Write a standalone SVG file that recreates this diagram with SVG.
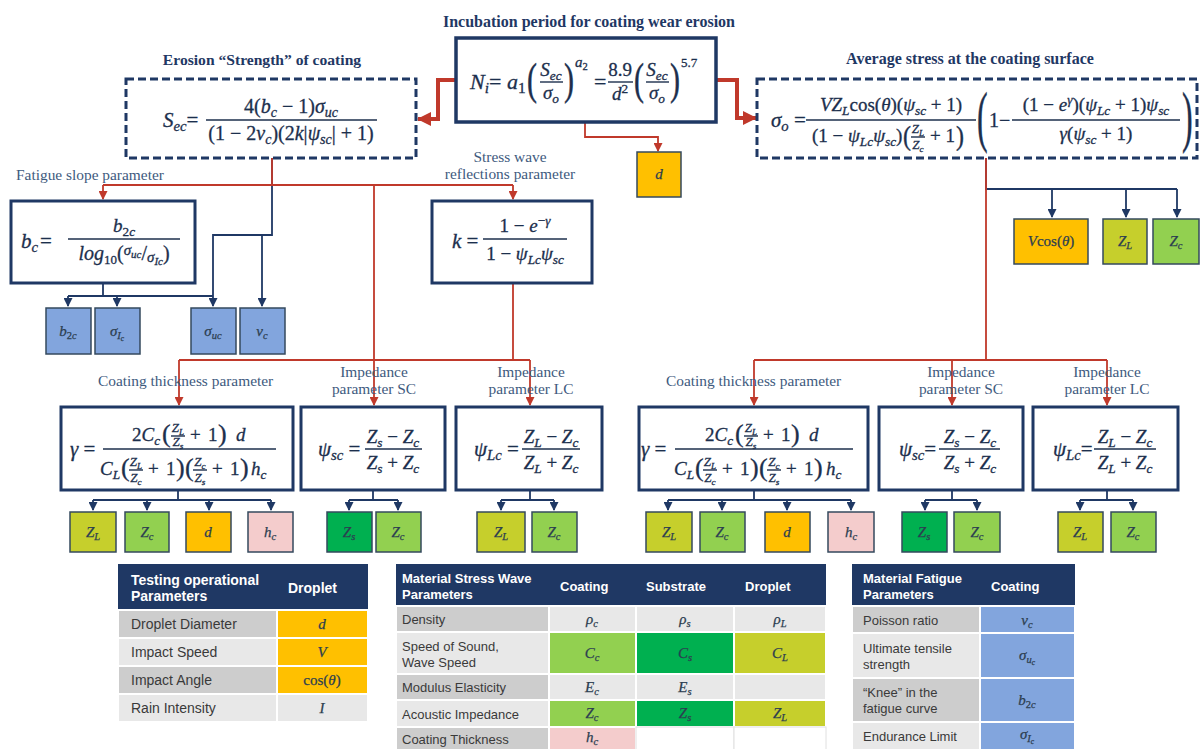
<svg xmlns="http://www.w3.org/2000/svg" width="1202" height="749" viewBox="0 0 1202 749">
<defs>
<style>
.ttl{font-family:"Liberation Serif","DejaVu Serif",serif;font-weight:bold;font-size:16px;fill:#1f3864}
.lbl{font-family:"Liberation Serif","DejaVu Serif",serif;font-size:15.4px;fill:#3e5a7e}
.m{font-family:"Liberation Serif","DejaVu Serif",serif;font-style:italic;fill:#1c2f4d;stroke:#1c2f4d;stroke-width:0.3}
.u{font-style:normal}
.sb{font-size:70%;baseline-shift:-0.28em}
.sp{font-size:70%;baseline-shift:0.55em}
.box{fill:#fff;stroke:#1f3864;stroke-width:3}
.dbox{fill:#fff;stroke:#1f3864;stroke-width:3;stroke-dasharray:8 4}
.bar{stroke:#1c2f4d;stroke-width:1.4}
.sm{stroke:#34495e;stroke-width:1.5}
.yel{fill:#ffc000}.olv{fill:#c6cf2c}.lgr{fill:#92d050}.dgr{fill:#00b050}.pnk{fill:#f4cccc}.blu{fill:#82a5dd}.wht{fill:#fff}
.rt{fill:none;stroke:#c0392b;stroke-width:4}
.rl{fill:none;stroke:#c0392b;stroke-width:1.8}
.nl{fill:none;stroke:#1f3864;stroke-width:1.8}
.th{fill:#1f3864}
.tc{stroke:#fff;stroke-width:2}
.g1{fill:#cdcdcd}.g2{fill:#e8e8e8}
.tt{font-family:"Liberation Sans",Arial,sans-serif;font-size:13px;fill:#3a3a3a}
.tt14{font-family:"Liberation Sans",Arial,sans-serif;font-size:14px;fill:#3a3a3a}
.thd{font-family:"Liberation Sans",Arial,sans-serif;font-weight:bold;font-size:13px;fill:#fff}
.thd14{font-family:"Liberation Sans",Arial,sans-serif;font-weight:bold;font-size:14px;fill:#fff}
.tv{font-family:"Liberation Serif","DejaVu Serif",serif;font-style:italic;font-size:15px;fill:#2c3e50;stroke:#2c3e50;stroke-width:0.25;text-anchor:middle}
</style>
<marker id="ab" markerUnits="userSpaceOnUse" markerWidth="14" markerHeight="14" refX="13" refY="7" orient="auto"><path d="M0,0 L14,7 L0,14 z" fill="#c0392b"/></marker>
<marker id="ar" markerUnits="userSpaceOnUse" markerWidth="9" markerHeight="9" refX="8" refY="4.5" orient="auto"><path d="M0,0 L9,4.5 L0,9 z" fill="#c0392b"/></marker>
<marker id="an" markerUnits="userSpaceOnUse" markerWidth="9" markerHeight="9" refX="8" refY="4.5" orient="auto"><path d="M0,0 L9,4.5 L0,9 z" fill="#1f3864"/></marker>
</defs>
<rect width="1202" height="749" fill="#fff"/>

<g id="connectors">
<path class="nl" d="M272,158 V235 H213 V306" marker-end="url(#an)"/>
<path class="nl" d="M262,235 V306" marker-end="url(#an)"/>
<path class="nl" d="M103,283 V296 M68,296 H213"/>
<path class="nl" d="M68,296 V306" marker-end="url(#an)"/>
<path class="nl" d="M117,296 V306" marker-end="url(#an)"/>
<path class="nl" d="M986,158 V189 H1177"/>
<path class="nl" d="M1052,189 V217" marker-end="url(#an)"/>
<path class="nl" d="M1126,189 V217" marker-end="url(#an)"/>
<path class="nl" d="M1177,189 V217" marker-end="url(#an)"/>
<path class="nl" d="M178,490 V500 M93,500 H271 M373,490 V500 M349,500 H398 M530,490 V500 M501,500 H554"/>
<path class="nl" d="M93,500 V510" marker-end="url(#an)"/>
<path class="nl" d="M147,500 V510" marker-end="url(#an)"/>
<path class="nl" d="M209,500 V510" marker-end="url(#an)"/>
<path class="nl" d="M271,500 V510" marker-end="url(#an)"/>
<path class="nl" d="M349,500 V510" marker-end="url(#an)"/>
<path class="nl" d="M398,500 V510" marker-end="url(#an)"/>
<path class="nl" d="M501,500 V510" marker-end="url(#an)"/>
<path class="nl" d="M554,500 V510" marker-end="url(#an)"/>
<path class="nl" d="M754,490 V500 M668,500 H851 M952,490 V500 M925,500 H977 M1107,490 V500 M1080,500 H1133"/>
<path class="nl" d="M668,500 V510" marker-end="url(#an)"/>
<path class="nl" d="M722,500 V510" marker-end="url(#an)"/>
<path class="nl" d="M787,500 V510" marker-end="url(#an)"/>
<path class="nl" d="M851,500 V510" marker-end="url(#an)"/>
<path class="nl" d="M925,500 V510" marker-end="url(#an)"/>
<path class="nl" d="M977,500 V510" marker-end="url(#an)"/>
<path class="nl" d="M1080,500 V510" marker-end="url(#an)"/>
<path class="nl" d="M1133,500 V510" marker-end="url(#an)"/>

<path class="rt" d="M456,80 H438 V119 H418" marker-end="url(#ab)"/>
<path class="rt" d="M716,80 H737 V118 H756" marker-end="url(#ab)"/>
<path class="rl" d="M585,122 V137 H658 V151" marker-end="url(#ar)"/>
<path class="rl" d="M272,158 V185 M103,185 H513 M374,185 V360 M513,283 V360 M179,360 H530"/>
<path class="rl" d="M103,185 V199" marker-end="url(#ar)"/>
<path class="rl" d="M513,185 V199" marker-end="url(#ar)"/>
<path class="rl" d="M179,360 V405" marker-end="url(#ar)"/>
<path class="rl" d="M374,360 V405" marker-end="url(#ar)"/>
<path class="rl" d="M530,360 V405" marker-end="url(#ar)"/>
<path class="rl" d="M986,158 V360 M754,360 H1107"/>
<path class="rl" d="M754,360 V405" marker-end="url(#ar)"/>
<path class="rl" d="M952,360 V405" marker-end="url(#ar)"/>
<path class="rl" d="M1107,360 V405" marker-end="url(#ar)"/>
</g>

<g id="n-incubation">
<text class="ttl" x="589" y="27" text-anchor="middle">Incubation period for coating wear erosion</text>
<rect class="box" x="456" y="38" width="260" height="84" style="stroke-width:3.5"/>
<text class="m" x="470" y="89" font-size="22">N<tspan class="sb">i</tspan><tspan class="u">= </tspan>a<tspan class="sb u">1</tspan></text>
<text class="m u" font-size="30" transform="translate(527,83) scale(1,1.45)" y="7.5">(</text>
<text class="m" x="551" y="76" font-size="19" text-anchor="middle">S<tspan class="sb">ec</tspan></text>
<line class="bar" x1="540" y1="82" x2="563" y2="82"/>
<text class="m" x="551" y="99" font-size="19" text-anchor="middle">σ<tspan class="sb">o</tspan></text>
<text class="m u" font-size="30" transform="translate(564,83) scale(1,1.45)" y="7.5">)</text>
<text class="m" x="575" y="67" font-size="15">a<tspan class="sb u">2</tspan></text>
<text class="m u" x="594" y="89" font-size="22">=</text>
<text class="m u" x="620" y="76" font-size="19" text-anchor="middle">8.9</text>
<line class="bar" x1="608" y1="82" x2="633" y2="82"/>
<text class="m" x="620" y="100" font-size="19" text-anchor="middle">d<tspan class="sp u">2</tspan></text>
<text class="m u" font-size="30" transform="translate(634,83) scale(1,1.45)" y="7.5">(</text>
<text class="m" x="657" y="76" font-size="19" text-anchor="middle">S<tspan class="sb">ec</tspan></text>
<line class="bar" x1="646" y1="82" x2="669" y2="82"/>
<text class="m" x="657" y="99" font-size="19" text-anchor="middle">σ<tspan class="sb">o</tspan></text>
<text class="m u" font-size="30" transform="translate(670,83) scale(1,1.45)" y="7.5">)</text>
<text class="m u" x="681" y="67" font-size="13">5.7</text>
</g>

<g id="n-d-top">
<rect class="yel sm" x="637" y="152" width="44" height="45"/>
<text class="tv" x="659" y="179">d</text>
</g>

<g id="n-erosion">
<text class="ttl" x="262" y="65" text-anchor="middle" style="font-size:15.6px">Erosion “Strength” of coating</text>
<rect class="dbox" x="126" y="79" width="290" height="79"/>
<text class="m" x="163" y="127" font-size="21">S<tspan class="sb">ec</tspan><tspan class="u">=</tspan></text>
<line class="bar" x1="206" y1="120" x2="377" y2="120"/>
<text class="m" x="291" y="113" font-size="20" text-anchor="middle"><tspan class="u">4(</tspan>b<tspan class="sb">c</tspan><tspan class="u"> − 1)</tspan>σ<tspan class="sb">uc</tspan></text>
<text class="m" x="291" y="140" font-size="20" text-anchor="middle"><tspan class="u">(1 − 2</tspan>ν<tspan class="sb">c</tspan><tspan class="u">)(2</tspan>k<tspan class="u">|</tspan>ψ<tspan class="sb">sc</tspan><tspan class="u">| + 1)</tspan></text>
</g>

<g id="n-stress">
<text class="ttl" x="970" y="64" text-anchor="middle">Average stress at the coating surface</text>
<rect class="dbox" x="757" y="79" width="440" height="79"/>
<text class="m" x="771" y="127" font-size="21">σ<tspan class="sb">o</tspan><tspan class="u"> =</tspan></text>
<line class="bar" x1="806" y1="120" x2="976" y2="120"/>
<text class="m" x="891" y="111" font-size="19" text-anchor="middle">VZ<tspan class="sb">L</tspan><tspan class="u">cos(</tspan>θ<tspan class="u">)(</tspan>ψ<tspan class="sb">sc</tspan><tspan class="u"> + 1)</tspan></text>
<text class="m" x="812" y="142" font-size="19"><tspan class="u">(1 − </tspan>ψ<tspan class="sb">Lc</tspan>ψ<tspan class="sb">sc</tspan><tspan class="u">)</tspan></text>
<text class="m u" font-size="24" transform="translate(903,138) scale(1,1.15)" y="6">(</text>
<text class="m" x="918" y="133" font-size="13" text-anchor="middle">Z<tspan class="sb">L</tspan></text>
<line class="bar" x1="911" y1="137" x2="925" y2="137"/>
<text class="m" x="918" y="149" font-size="13" text-anchor="middle">Z<tspan class="sb">c</tspan></text>
<text class="m u" x="930" y="142" font-size="19">+ 1</text>
<text class="m u" font-size="24" transform="translate(956,138) scale(1,1.15)" y="6">)</text>
<text class="m u" font-size="40" transform="translate(977,122) scale(0.8,1.7)" y="10">(</text>
<text class="m u" x="989" y="127" font-size="20">1</text>
<text class="m u" x="999" y="127" font-size="20">−</text>
<line class="bar" x1="1012" y1="120" x2="1180" y2="120"/>
<text class="m" x="1096" y="111" font-size="19" text-anchor="middle"><tspan class="u">(1 − </tspan>e<tspan class="sp">γ</tspan><tspan class="u">)(</tspan>ψ<tspan class="sb">Lc</tspan><tspan class="u"> + 1)</tspan>ψ<tspan class="sb">sc</tspan></text>
<text class="m" x="1096" y="140" font-size="19" text-anchor="middle">γ<tspan class="u">(</tspan>ψ<tspan class="sb">sc</tspan><tspan class="u"> + 1)</tspan></text>
<text class="m u" font-size="40" transform="translate(1182,122) scale(0.8,1.7)" y="10">)</text>
</g>

<g id="n-vcos"><rect class="yel sm" x="1014" y="219" width="74" height="45"/><text class="tv" x="1051" y="246">V<tspan class="u">cos(</tspan>θ<tspan class="u">)</tspan></text></g>
<g id="n-zl-top"><rect class="olv sm" x="1103" y="219" width="44" height="45"/><text class="tv" x="1125" y="246">Z<tspan class="sb">L</tspan></text></g>
<g id="n-zc-top"><rect class="lgr sm" x="1153" y="219" width="46" height="45"/><text class="tv" x="1176" y="246">Z<tspan class="sb">c</tspan></text></g>

<g id="n-bc">
<text class="lbl" x="16" y="180">Fatigue slope parameter</text>
<rect class="box" x="11" y="201" width="184" height="82"/>
<text class="m" x="21" y="248" font-size="21">b<tspan class="sb">c</tspan></text>
<text class="m u" x="40" y="248" font-size="21">=</text>
<line class="bar" x1="68" y1="239" x2="180" y2="239"/>
<text class="m" x="124" y="232" font-size="19" text-anchor="middle">b<tspan class="sb"><tspan class="u">2</tspan>c</tspan></text>
<text class="m" x="124" y="260" font-size="20" text-anchor="middle">log<tspan class="u" font-size="13" dy="4">10</tspan><tspan class="u" dy="-4">(</tspan><tspan font-size="15" dy="-5">σ</tspan><tspan font-size="11" dy="3">uc</tspan><tspan class="u" dy="2">/</tspan><tspan font-size="15" dy="2">σ</tspan><tspan font-size="11" dy="3">Ic</tspan><tspan class="u" dy="-5">)</tspan></text>
</g>

<g id="n-k">
<text class="lbl" x="510" y="162" text-anchor="middle">Stress wave</text>
<text class="lbl" x="510" y="179" text-anchor="middle">reflections parameter</text>
<rect class="box" x="432" y="201" width="160" height="82"/>
<text class="m" x="452" y="248" font-size="21">k<tspan class="u"> =</tspan></text>
<line class="bar" x1="483" y1="239" x2="567" y2="239"/>
<text class="m" x="525" y="232" font-size="19" text-anchor="middle"><tspan class="u">1 − </tspan>e<tspan class="sp"><tspan class="u">−</tspan>γ</tspan></text>
<text class="m" x="525" y="260" font-size="19" text-anchor="middle"><tspan class="u">1 − </tspan>ψ<tspan class="sb">Lc</tspan>ψ<tspan class="sb">sc</tspan></text>
</g>

<g id="n-b2c"><rect class="blu sm" x="46" y="308" width="45" height="46"/><text class="tv" x="68" y="336">b<tspan class="sb"><tspan class="u">2</tspan>c</tspan></text></g>
<g id="n-sic"><rect class="blu sm" x="95" y="308" width="45" height="46"/><text class="tv" x="117" y="336">σ<tspan class="sb">I<tspan class="sb">c</tspan></tspan></text></g>
<g id="n-suc"><rect class="blu sm" x="191" y="308" width="45" height="46"/><text class="tv" x="213" y="336">σ<tspan class="sb">uc</tspan></text></g>
<g id="n-nuc"><rect class="blu sm" x="240" y="308" width="45" height="46"/><text class="tv" x="262" y="336">ν<tspan class="sb">c</tspan></text></g>

<g id="n-gamma-l">
<text class="lbl" x="98" y="386">Coating thickness parameter</text>
<rect class="box" x="61" y="407" width="232" height="83"/>
<text class="m" x="70" y="456" font-size="21">γ<tspan class="u"> =</tspan></text>
<line class="bar" x1="103" y1="449" x2="276" y2="449"/>
<text class="m" x="132" y="441" font-size="19"><tspan class="u">2</tspan>C<tspan class="sb">c</tspan></text>
<text class="m u" x="162" y="442" font-size="26">(</text>
<text class="m" x="178" y="432" font-size="13" text-anchor="middle">Z<tspan class="sb">L</tspan></text>
<line class="bar" x1="171" y1="436" x2="185" y2="436"/>
<text class="m" x="178" y="446" font-size="13" text-anchor="middle">Z<tspan class="sb">s</tspan></text>
<text class="m u" x="190" y="441" font-size="19">+</text>
<text class="m u" x="208" y="441" font-size="19">1</text>
<text class="m u" x="218" y="442" font-size="26">)</text>
<text class="m" x="236" y="441" font-size="19">d</text>
<text class="m" x="100" y="475" font-size="19">C<tspan class="sb">L</tspan></text>
<text class="m u" x="121" y="476" font-size="26">(</text>
<text class="m" x="136" y="466" font-size="13" text-anchor="middle">Z<tspan class="sb">L</tspan></text>
<line class="bar" x1="129" y1="470" x2="143" y2="470"/>
<text class="m" x="136" y="482" font-size="13" text-anchor="middle">Z<tspan class="sb">c</tspan></text>
<text class="m u" x="148" y="475" font-size="19">+</text>
<text class="m u" x="166" y="475" font-size="19">1</text>
<text class="m u" x="176" y="476" font-size="26">)</text>
<text class="m u" x="185" y="476" font-size="26">(</text>
<text class="m" x="200" y="466" font-size="13" text-anchor="middle">Z<tspan class="sb">c</tspan></text>
<line class="bar" x1="193" y1="470" x2="207" y2="470"/>
<text class="m" x="200" y="482" font-size="13" text-anchor="middle">Z<tspan class="sb">s</tspan></text>
<text class="m u" x="212" y="475" font-size="19">+</text>
<text class="m u" x="230" y="475" font-size="19">1</text>
<text class="m u" x="240" y="476" font-size="26">)</text>
<text class="m" x="251" y="475" font-size="19">h<tspan class="sb">c</tspan></text>
</g>

<g id="n-psisc-l">
<text class="lbl" x="374" y="377" text-anchor="middle">Impedance</text>
<text class="lbl" x="374" y="394" text-anchor="middle">parameter SC</text>
<rect class="box" x="301" y="407" width="144" height="83"/>
<text class="m" x="318" y="456" font-size="21">ψ<tspan class="sb">sc</tspan><tspan class="u"> =</tspan></text>
<line class="bar" x1="365" y1="449" x2="422" y2="449"/>
<text class="m" x="393" y="443" font-size="19" text-anchor="middle">Z<tspan class="sb">s</tspan><tspan class="u"> − </tspan>Z<tspan class="sb">c</tspan></text>
<text class="m" x="393" y="469" font-size="19" text-anchor="middle">Z<tspan class="sb">s</tspan><tspan class="u"> + </tspan>Z<tspan class="sb">c</tspan></text>
</g>

<g id="n-psilc-l">
<text class="lbl" x="531" y="377" text-anchor="middle">Impedance</text>
<text class="lbl" x="531" y="394" text-anchor="middle">parameter LC</text>
<rect class="box" x="456" y="407" width="146" height="83"/>
<text class="m" x="474" y="456" font-size="21">ψ<tspan class="sb">Lc</tspan><tspan class="u"> =</tspan></text>
<line class="bar" x1="522" y1="449" x2="580" y2="449"/>
<text class="m" x="551" y="443" font-size="19" text-anchor="middle">Z<tspan class="sb">L</tspan><tspan class="u"> − </tspan>Z<tspan class="sb">c</tspan></text>
<text class="m" x="551" y="469" font-size="19" text-anchor="middle">Z<tspan class="sb">L</tspan><tspan class="u"> + </tspan>Z<tspan class="sb">c</tspan></text>
</g>

<g id="n-leaf-l">
<g id="n-zl1"><rect class="olv sm" x="70" y="512" width="46" height="40"/><text class="tv" x="93" y="537">Z<tspan class="sb">L</tspan></text></g>
<g id="n-zc1"><rect class="lgr sm" x="125" y="512" width="44" height="40"/><text class="tv" x="147" y="537">Z<tspan class="sb">c</tspan></text></g>
<g id="n-d1"><rect class="yel sm" x="186" y="512" width="45" height="40"/><text class="tv" x="208" y="537">d</text></g>
<g id="n-hc1"><rect class="pnk sm" x="248" y="512" width="45" height="40"/><text class="tv" x="270" y="537">h<tspan class="sb">c</tspan></text></g>
<g id="n-zs2"><rect class="dgr sm" x="327" y="512" width="45" height="40"/><text class="tv" x="349" y="537">Z<tspan class="sb">s</tspan></text></g>
<g id="n-zc2"><rect class="lgr sm" x="376" y="512" width="45" height="40"/><text class="tv" x="398" y="537">Z<tspan class="sb">c</tspan></text></g>
<g id="n-zl3"><rect class="olv sm" x="477" y="512" width="48" height="40"/><text class="tv" x="501" y="537">Z<tspan class="sb">L</tspan></text></g>
<g id="n-zc3"><rect class="lgr sm" x="532" y="512" width="45" height="40"/><text class="tv" x="554" y="537">Z<tspan class="sb">c</tspan></text></g>
</g>

<g id="n-gamma-r">
<text class="lbl" x="666" y="386">Coating thickness parameter</text>
<rect class="box" x="639" y="407" width="229" height="83"/>
<text class="m" x="641" y="456" font-size="21">γ<tspan class="u"> =</tspan></text>
<line class="bar" x1="675" y1="449" x2="853" y2="449"/>
<text class="m" x="705" y="441" font-size="19"><tspan class="u">2</tspan>C<tspan class="sb">c</tspan></text>
<text class="m u" x="735" y="442" font-size="26">(</text>
<text class="m" x="751" y="432" font-size="13" text-anchor="middle">Z<tspan class="sb">L</tspan></text>
<line class="bar" x1="744" y1="436" x2="758" y2="436"/>
<text class="m" x="751" y="446" font-size="13" text-anchor="middle">Z<tspan class="sb">s</tspan></text>
<text class="m u" x="763" y="441" font-size="19">+</text>
<text class="m u" x="781" y="441" font-size="19">1</text>
<text class="m u" x="791" y="442" font-size="26">)</text>
<text class="m" x="809" y="441" font-size="19">d</text>
<text class="m" x="674" y="475" font-size="19">C<tspan class="sb">L</tspan></text>
<text class="m u" x="695" y="476" font-size="26">(</text>
<text class="m" x="710" y="466" font-size="13" text-anchor="middle">Z<tspan class="sb">L</tspan></text>
<line class="bar" x1="703" y1="470" x2="717" y2="470"/>
<text class="m" x="710" y="482" font-size="13" text-anchor="middle">Z<tspan class="sb">c</tspan></text>
<text class="m u" x="722" y="475" font-size="19">+</text>
<text class="m u" x="740" y="475" font-size="19">1</text>
<text class="m u" x="750" y="476" font-size="26">)</text>
<text class="m u" x="759" y="476" font-size="26">(</text>
<text class="m" x="774" y="466" font-size="13" text-anchor="middle">Z<tspan class="sb">c</tspan></text>
<line class="bar" x1="767" y1="470" x2="781" y2="470"/>
<text class="m" x="774" y="482" font-size="13" text-anchor="middle">Z<tspan class="sb">s</tspan></text>
<text class="m u" x="786" y="475" font-size="19">+</text>
<text class="m u" x="804" y="475" font-size="19">1</text>
<text class="m u" x="814" y="476" font-size="26">)</text>
<text class="m" x="826" y="475" font-size="19">h<tspan class="sb">c</tspan></text>
</g>

<g id="n-psisc-r">
<text class="lbl" x="961" y="377" text-anchor="middle">Impedance</text>
<text class="lbl" x="961" y="394" text-anchor="middle">parameter SC</text>
<rect class="box" x="879" y="407" width="144" height="83"/>
<text class="m" x="899" y="456" font-size="21">ψ<tspan class="sb">sc</tspan><tspan class="u">=</tspan></text>
<line class="bar" x1="939" y1="449" x2="1000" y2="449"/>
<text class="m" x="970" y="443" font-size="19" text-anchor="middle">Z<tspan class="sb">s</tspan><tspan class="u"> − </tspan>Z<tspan class="sb">c</tspan></text>
<text class="m" x="970" y="469" font-size="19" text-anchor="middle">Z<tspan class="sb">s</tspan><tspan class="u"> + </tspan>Z<tspan class="sb">c</tspan></text>
</g>

<g id="n-psilc-r">
<text class="lbl" x="1107" y="377" text-anchor="middle">Impedance</text>
<text class="lbl" x="1107" y="394" text-anchor="middle">parameter LC</text>
<rect class="box" x="1033" y="407" width="145" height="83"/>
<text class="m" x="1053" y="456" font-size="21">ψ<tspan class="sb">Lc</tspan><tspan class="u">=</tspan></text>
<line class="bar" x1="1094" y1="449" x2="1156" y2="449"/>
<text class="m" x="1125" y="443" font-size="19" text-anchor="middle">Z<tspan class="sb">L</tspan><tspan class="u"> − </tspan>Z<tspan class="sb">c</tspan></text>
<text class="m" x="1125" y="469" font-size="19" text-anchor="middle">Z<tspan class="sb">L</tspan><tspan class="u"> + </tspan>Z<tspan class="sb">c</tspan></text>
</g>

<g id="n-leaf-r">
<g id="n-zl4"><rect class="olv sm" x="646" y="512" width="46" height="40"/><text class="tv" x="669" y="537">Z<tspan class="sb">L</tspan></text></g>
<g id="n-zc4"><rect class="lgr sm" x="700" y="512" width="45" height="40"/><text class="tv" x="722" y="537">Z<tspan class="sb">c</tspan></text></g>
<g id="n-d4"><rect class="yel sm" x="765" y="512" width="45" height="40"/><text class="tv" x="787" y="537">d</text></g>
<g id="n-hc4"><rect class="pnk sm" x="828" y="512" width="46" height="40"/><text class="tv" x="851" y="537">h<tspan class="sb">c</tspan></text></g>
<g id="n-zs5"><rect class="dgr sm" x="902" y="512" width="45" height="40"/><text class="tv" x="924" y="537">Z<tspan class="sb">s</tspan></text></g>
<g id="n-zc5"><rect class="lgr sm" x="954" y="512" width="46" height="40"/><text class="tv" x="977" y="537">Z<tspan class="sb">c</tspan></text></g>
<g id="n-zl6"><rect class="olv sm" x="1058" y="512" width="45" height="40"/><text class="tv" x="1080" y="537">Z<tspan class="sb">L</tspan></text></g>
<g id="n-zc6"><rect class="lgr sm" x="1111" y="512" width="45" height="40"/><text class="tv" x="1133" y="537">Z<tspan class="sb">c</tspan></text></g>
</g>

<g id="t-testing">
<rect class="th" x="118" y="564" width="250" height="46"/>
<text class="thd14" x="131" y="585">Testing operational</text>
<text class="thd14" x="131" y="601">Parameters</text>
<text class="thd14" x="288" y="593">Droplet</text>
<rect class="g1 tc" x="118" y="610" width="159" height="28"/><rect class="yel tc" x="277" y="610" width="91" height="28"/>
<rect class="g2 tc" x="118" y="638" width="159" height="28"/><rect class="yel tc" x="277" y="638" width="91" height="28"/>
<rect class="g1 tc" x="118" y="666" width="159" height="28"/><rect class="yel tc" x="277" y="666" width="91" height="28"/>
<rect class="g2 tc" x="118" y="694" width="159" height="28"/><rect class="g2 tc" x="277" y="694" width="91" height="28"/>
<text class="tt14" x="131" y="629">Droplet Diameter</text>
<text class="tt14" x="131" y="657">Impact Speed</text>
<text class="tt14" x="131" y="685">Impact Angle</text>
<text class="tt14" x="131" y="713">Rain Intensity</text>
<text class="tv" x="322" y="629">d</text>
<text class="tv" x="322" y="657">V</text>
<text class="tv" x="322" y="685"><tspan class="u">cos(</tspan>θ<tspan class="u">)</tspan></text>
<text class="tv" x="322" y="713">I</text>
</g>

<g id="t-stresswave">
<rect class="th" x="396" y="564" width="430" height="42"/>
<text class="thd" x="402" y="583">Material Stress Wave</text>
<text class="thd" x="402" y="599">Parameters</text>
<text class="thd" x="560" y="591">Coating</text>
<text class="thd" x="646" y="591">Substrate</text>
<text class="thd" x="745" y="591">Droplet</text>
<rect class="g1 tc" x="396" y="606" width="153" height="26"/><rect class="g2 tc" x="549" y="606" width="87" height="26"/><rect class="g2 tc" x="636" y="606" width="98" height="26"/><rect class="g2 tc" x="734" y="606" width="92" height="26"/>
<rect class="g2 tc" x="396" y="632" width="153" height="42"/><rect class="lgr tc" x="549" y="632" width="87" height="42"/><rect class="dgr tc" x="636" y="632" width="98" height="42"/><rect class="olv tc" x="734" y="632" width="92" height="42"/>
<rect class="g1 tc" x="396" y="674" width="153" height="26"/><rect class="g2 tc" x="549" y="674" width="87" height="26"/><rect class="g2 tc" x="636" y="674" width="98" height="26"/><rect class="g2 tc" x="734" y="674" width="92" height="26"/>
<rect class="g2 tc" x="396" y="700" width="153" height="27"/><rect class="lgr tc" x="549" y="700" width="87" height="27"/><rect class="dgr tc" x="636" y="700" width="98" height="27"/><rect class="olv tc" x="734" y="700" width="92" height="27"/>
<rect class="g1 tc" x="396" y="727" width="153" height="26"/><rect class="pnk tc" x="549" y="727" width="87" height="26"/><rect class="wht" x="636" y="727" width="98" height="26" style="stroke:#e0e0e0;stroke-width:1"/><rect class="wht" x="734" y="727" width="92" height="26" style="stroke:#e0e0e0;stroke-width:1"/>
<text class="tt" x="402" y="624">Density</text>
<text class="tt" x="402" y="651">Speed of Sound,</text>
<text class="tt" x="402" y="667">Wave Speed</text>
<text class="tt" x="402" y="692">Modulus Elasticity</text>
<text class="tt" x="402" y="719">Acoustic Impedance</text>
<text class="tt" x="402" y="744">Coating Thickness</text>
<text class="tv" x="592" y="624">ρ<tspan class="sb">c</tspan></text>
<text class="tv" x="685" y="624">ρ<tspan class="sb">s</tspan></text>
<text class="tv" x="780" y="624">ρ<tspan class="sb">L</tspan></text>
<text class="tv" x="592" y="658">C<tspan class="sb">c</tspan></text>
<text class="tv" x="685" y="658">C<tspan class="sb">s</tspan></text>
<text class="tv" x="780" y="658">C<tspan class="sb">L</tspan></text>
<text class="tv" x="592" y="692">E<tspan class="sb">c</tspan></text>
<text class="tv" x="685" y="692">E<tspan class="sb">s</tspan></text>
<text class="tv" x="592" y="718">Z<tspan class="sb">c</tspan></text>
<text class="tv" x="685" y="718">Z<tspan class="sb">s</tspan></text>
<text class="tv" x="780" y="718">Z<tspan class="sb">L</tspan></text>
<text class="tv" x="592" y="742">h<tspan class="sb">c</tspan></text>
</g>

<g id="t-fatigue">
<rect class="th" x="852" y="564" width="223" height="42"/>
<text class="thd" x="863" y="583">Material Fatigue</text>
<text class="thd" x="863" y="599">Parameters</text>
<text class="thd" x="991" y="591">Coating</text>
<rect class="g1 tc" x="852" y="606" width="128" height="27"/><rect class="blu tc" x="980" y="606" width="95" height="27"/>
<rect class="g2 tc" x="852" y="633" width="128" height="45"/><rect class="blu tc" x="980" y="633" width="95" height="45"/>
<rect class="g1 tc" x="852" y="678" width="128" height="44"/><rect class="blu tc" x="980" y="678" width="95" height="44"/>
<rect class="g2 tc" x="852" y="722" width="128" height="30"/><rect class="blu tc" x="980" y="722" width="95" height="30"/>
<text class="tt" x="863" y="625">Poisson ratio</text>
<text class="tt" x="863" y="653">Ultimate tensile</text>
<text class="tt" x="863" y="669">strength</text>
<text class="tt" x="863" y="697">“Knee” in the</text>
<text class="tt" x="863" y="713">fatigue curve</text>
<text class="tt" x="863" y="741">Endurance Limit</text>
<text class="tv" x="1027" y="625">ν<tspan class="sb">c</tspan></text>
<text class="tv" x="1027" y="660">σ<tspan class="sb">u<tspan class="sb">c</tspan></tspan></text>
<text class="tv" x="1027" y="705">b<tspan class="sb"><tspan class="u">2</tspan>c</tspan></text>
<text class="tv" x="1027" y="739">σ<tspan class="sb">I<tspan class="sb">c</tspan></tspan></text>
</g>
</svg>
